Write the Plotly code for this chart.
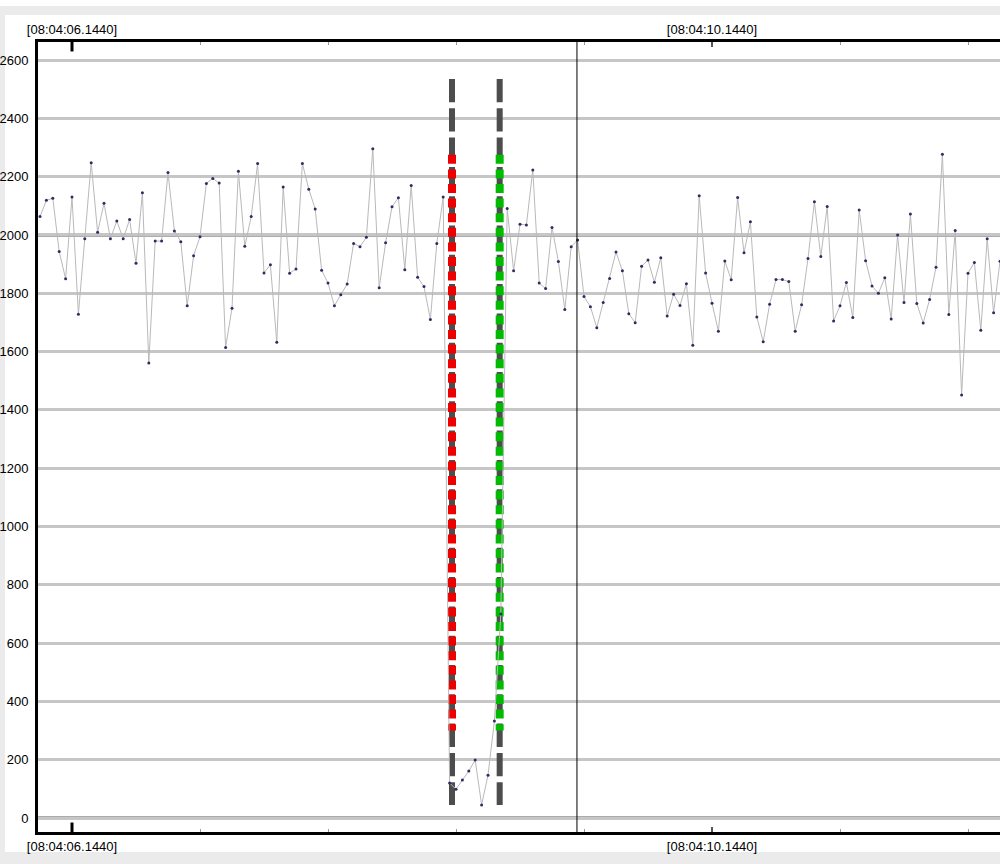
import plotly.graph_objects as go

# ---- data ----
start_time = 5.944          # seconds after 08:04:00 of first sample
sample_step = 0.04          # 40 ms between samples
values = [
    2063, 2119, 2126, 1943, 1850, 2130, 1728, 1987, 2248, 2009,
    2109, 1987, 2048, 1987, 2053, 1903, 2145, 1561, 1979, 1979,
    2214, 2014, 1977, 1757, 1929, 1994, 2177, 2194, 2178, 1614,
    1749, 2219, 1961, 2063, 2245, 1870, 1898, 1632, 2165, 1869,
    1883, 2245, 2157, 2089, 1879, 1835, 1757, 1795, 1832, 1971,
    1960, 1992, 2296, 1819, 1973, 2097, 2128, 1881, 2170, 1855,
    1823, 1710, 1971, 2130, 120, 99, 130, 161, 199, 45,
    147, 333, 700, 2091, 1877, 2037, 2034, 2223, 1835, 1816,
    2026, 1909, 1744, 1960, 1983, 1789, 1754, 1682, 1768, 1851,
    1942, 1877, 1730, 1699, 1893, 1914, 1838, 1922, 1722, 1797,
    1758, 1833, 1622, 2135, 1870, 1766, 1670, 1911, 1846, 2129,
    1939, 2045, 1719, 1634, 1762, 1847, 1847, 1840, 1670, 1761,
    1919, 2114, 1926, 2098, 1705, 1757, 1837, 1717, 2086, 1912,
    1825, 1800, 1853, 1712, 2000, 1768, 2072, 1765, 1698, 1779,
    1889, 2277, 1727, 2015, 1451, 1869, 1906, 1673, 1987, 1733,
    1910,
]
times = [start_time + i * sample_step for i in range(len(values))]

y_ticks = [0, 200, 400, 600, 800, 1000, 1200, 1400, 1600, 1800, 2000, 2200, 2400, 2600]
x_major_ticks = [6.144, 10.144]
x_major_labels = ["[08:04:06.1440]", "[08:04:10.1440]"]

cursor_time = 9.300
red_marker_time = 8.519
green_marker_time = 8.817
marker_span = [2535, 45]       # grey dashed extent (top to bottom)
dot_span = [2275, 300]         # coloured dotted extent

x_range = [5.9315, 11.944]
y_range = [-48, 2662]

FONT = "Liberation Sans, Arial, sans-serif"

fig = go.Figure()

# grey dashed marker lines
for t in (red_marker_time, green_marker_time):
    fig.add_trace(go.Scatter(
        x=[t, t], y=marker_span, mode="lines",
        line=dict(color="#4d4d4d", width=6, dash="23.3px,6px"),
        hoverinfo="skip", showlegend=False))

# coloured dotted overlays
fig.add_trace(go.Scatter(
    x=[red_marker_time, red_marker_time], y=dot_span, mode="lines",
    line=dict(color="#ee0000", width=8, dash="9px,5.6px"),
    hoverinfo="skip", showlegend=False))
fig.add_trace(go.Scatter(
    x=[green_marker_time, green_marker_time], y=dot_span, mode="lines",
    line=dict(color="#00bb00", width=8, dash="9px,5.6px"),
    hoverinfo="skip", showlegend=False))

# data series
fig.add_trace(go.Scatter(
    x=times, y=values, mode="lines+markers",
    line=dict(color="#b9b9b9", width=1),
    marker=dict(color="#2d2d66", size=3),
    showlegend=False))

# invisible trace for the top axis
fig.add_trace(go.Scatter(x=[times[0]], y=[values[0]], xaxis="x2",
                         mode="markers", marker=dict(opacity=0),
                         hoverinfo="skip", showlegend=False))

axis_common = dict(
    range=x_range, tickmode="array", tickvals=x_major_ticks, ticktext=x_major_labels,
    ticks="inside", ticklen=5, tickwidth=2, tickcolor="#555555",
    showgrid=False, zeroline=False, showline=True, linecolor="black", linewidth=3,
    tickfont=dict(family=FONT, size=13, color="black"),
    minor=dict(tick0=6.144, dtick=0.8, ticks="inside", ticklen=3, tickwidth=1,
               tickcolor="#999999", showgrid=False),
)

fig.update_layout(
    width=1000, height=864, autosize=False,
    margin=dict(l=38, r=0, t=42, b=32),
    paper_bgcolor="white", plot_bgcolor="white",
    xaxis=dict(side="bottom", **axis_common),
    xaxis2=dict(side="top", overlaying="x", anchor="y", **axis_common),
    yaxis=dict(
        range=y_range, tickmode="array", tickvals=y_ticks,
        showgrid=True, gridcolor="#c6c6c6", gridwidth=3,
        zeroline=False, showline=True, linecolor="black", linewidth=3,
        ticks="", ticklabelstandoff=4,
        tickfont=dict(family=FONT, size=13, color="black"),
    ),
    shapes=[
        # emphasised horizontal lines
        dict(type="line", xref="paper", x0=0, x1=1, yref="y", y0=2000, y1=2000,
             line=dict(color="#5a5a5a", width=3), layer="between"),
        dict(type="line", xref="paper", x0=0, x1=1, yref="y", y0=0, y1=0,
             line=dict(color="#5a5a5a", width=3), layer="between"),
        # cursor line
        dict(type="line", xref="x", x0=cursor_time, x1=cursor_time, yref="paper", y0=0, y1=1,
             line=dict(color="black", width=1)),
        # start-of-view tick emphasis
        dict(type="line", xref="x", x0=6.144, x1=6.144, yref="paper", y0=1, y1=0.988,
             line=dict(color="black", width=3)),
        dict(type="line", xref="x", x0=6.144, x1=6.144, yref="paper", y0=0, y1=0.012,
             line=dict(color="black", width=3)),
        # grey frame bands
        dict(type="rect", xref="paper", x0=-0.05, x1=1.01, yref="paper", y0=1.0342, y1=1.0456,
             fillcolor="#ebebeb", line=dict(width=0), layer="below"),
        dict(type="rect", xref="paper", x0=-0.05, x1=1.01, yref="paper", y0=-0.06, y1=-0.0253,
             fillcolor="#ebebeb", line=dict(width=0), layer="below"),
        dict(type="rect", xref="paper", x0=-0.05, x1=-0.0343, yref="paper", y0=-0.03, y1=1.04,
             fillcolor="#ebebeb", line=dict(width=0), layer="below"),
    ],
)

fig.write_html("out.html", config={"displayModeBar": False},
               post_script="document.body.style.margin='0px';")
